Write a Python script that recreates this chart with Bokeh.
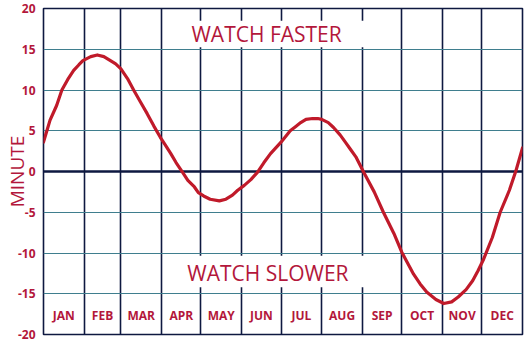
import numpy as np
from bokeh.plotting import figure
from bokeh.models import FixedTicker, Span, Range1d, ColumnDataSource
from bokeh.core.properties import value
from bokeh.embed import file_html
from bokeh.resources import INLINE

# ---- data ----
months = ["JAN", "FEB", "MAR", "APR", "MAY", "JUN", "JUL", "AUG", "SEP", "OCT", "NOV", "DEC"]
month_days = [31, 28, 31, 30, 31, 30, 31, 31, 30, 31, 30, 31]
y_ticks = [-20, -15, -10, -5, 0, 5, 10, 15, 20]
y_tick_labels = ["-20", "-15", "-10", "-5", "0", "5", "10", "15", "20"]
y_title = "MINUTE"
label_top = "WATCH FASTER"
label_bottom = "WATCH SLOWER"

# day of year (0 = Jan 1) and minutes
day = [0, 2, 5, 10, 14, 18.5, 23, 27, 30, 36, 41, 46, 51, 55, 59, 64, 69, 74, 79, 84,
       89, 93, 97, 101, 106, 110, 115, 118, 122, 127, 134, 139, 144, 148, 153, 158,
       163, 168, 173, 181, 188, 192, 196, 200, 205, 209, 212, 217, 221, 226, 230,
       234, 238, 244, 252, 259, 267, 273, 277, 282, 287, 292, 299, 305, 311, 316,
       322, 327, 331, 335, 342, 348, 355, 360, 365]
minutes = [3.6, 4.7, 6.3, 8.1, 10.0, 11.3, 12.4, 13.1, 13.6, 14.1, 14.3, 14.1, 13.6,
           13.2, 12.6, 11.4, 9.9, 8.5, 7.1, 5.6, 4.2, 3.2, 2.2, 1.1, -0.1, -1.1, -1.9,
           -2.6, -3.0, -3.4, -3.6, -3.4, -2.9, -2.3, -1.7, -1.0, -0.1, 1.1, 2.2, 3.6,
           5.0, 5.5, 6.0, 6.4, 6.5, 6.5, 6.4, 6.0, 5.4, 4.5, 3.6, 2.7, 1.8, -0.1, -2.5,
           -5.0, -7.6, -9.9, -11.1, -12.6, -13.8, -14.8, -15.7, -16.2, -16.0, -15.4,
           -14.5, -13.4, -12.2, -10.9, -8.1, -5.0, -2.3, 0.1, 2.9]

# ---- styling ----
RED_TEXT = "#b3173b"
RED_LINE = "#c01a2a"
NAVY = "#0e1840"
TEAL = "#3f7e8e"
FONT = "Open Sans"

bounds = np.cumsum([0] + month_days)
centers = (bounds[:-1] + bounds[1:]) / 2.0
year_len = int(bounds[-1])

p = figure(width=530, height=342, x_range=Range1d(0, year_len), y_range=Range1d(-20, 20),
           output_backend="svg", toolbar_location=None, x_axis_location=None,
           min_border_left=43, min_border_right=8, min_border_top=8, min_border_bottom=8)
p.background_fill_color = "white"
p.border_fill_color = "white"
p.outline_line_color = NAVY
p.outline_line_width = 1.6

# grids
p.xgrid.ticker = FixedTicker(ticks=[float(b) for b in bounds[1:-1]])
p.xgrid.grid_line_color = NAVY
p.xgrid.grid_line_width = 1.6
p.ygrid.ticker = FixedTicker(ticks=[t for t in y_ticks if t not in (0, -20, 20)])
p.ygrid.grid_line_color = TEAL
p.ygrid.grid_line_width = 1.2

zero = Span(location=0, dimension="width", line_color=NAVY, line_width=2.6, level="underlay")
p.add_layout(zero)

# y axis
ax = p.yaxis[0]
ax.ticker = FixedTicker(ticks=y_ticks)
ax.major_label_overrides = {t: s for t, s in zip(y_ticks, y_tick_labels)}
ax.axis_line_color = None
ax.major_tick_line_color = None
ax.minor_tick_line_color = None
ax.major_tick_in = 0
ax.major_tick_out = 0
ax.minor_tick_in = 0
ax.minor_tick_out = 0
ax.major_label_standoff = 8
ax.major_label_text_color = RED_TEXT
ax.major_label_text_font = FONT
ax.major_label_text_font_style = "bold"
ax.major_label_text_font_size = "12px"
ax.axis_label = y_title
ax.axis_label_text_color = RED_TEXT
ax.axis_label_text_font = FONT
ax.axis_label_text_font_style = "normal"
ax.axis_label_text_font_size = "19px"
ax.axis_label_standoff = -15

# white boxes behind the captions
p.quad(left=[97, 97], right=[248, 248], bottom=[15.25, -14.2], top=[18.5, -10.35],
       fill_color="white", line_color=None)

p.text(x=[170, 171], y=[16.9, -12.4], text=[label_top, label_bottom],
       text_color=RED_TEXT, text_font=value(FONT), text_font_size="21px",
       text_align="center", text_baseline="middle")

# month labels
src = ColumnDataSource(dict(x=centers, y=[-17.7] * len(months), t=months))
p.text(x="x", y="y", text="t", source=src, text_color=RED_TEXT, text_font=value(FONT),
       text_font_size="12px", text_font_style="bold", text_align="center",
       text_baseline="middle")

# curve
p.line(day, minutes, line_color=RED_LINE, line_width=3.2, line_join="round", line_cap="round")

open("out.html", "w").write(file_html(p, INLINE))
